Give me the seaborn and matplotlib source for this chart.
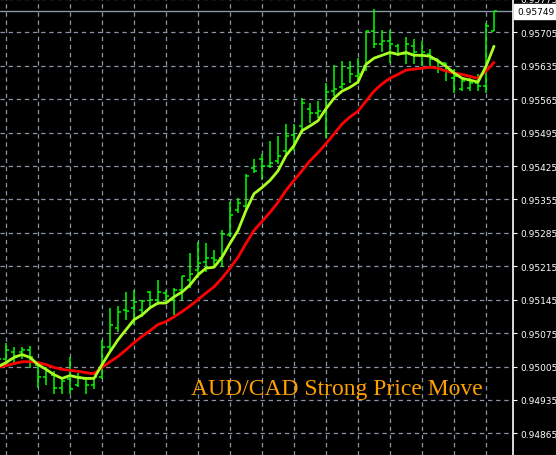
import numpy as np
import pandas as pd
import matplotlib
matplotlib.use("Agg")
import matplotlib.pyplot as plt
import seaborn as sns

# ---- data (AUD/CAD) ----
highs = [0.95040, 0.95055, 0.95045, 0.95045, 0.95047, 0.95013, 0.95003, 0.94995, 0.94984, 0.95024,
         0.94992, 0.94984, 0.94984, 0.95061, 0.95128, 0.95132, 0.95161, 0.95165, 0.95145, 0.95163,
         0.95186, 0.95165, 0.95170, 0.95195, 0.95243, 0.95265, 0.95263, 0.95249, 0.95290, 0.95349,
         0.95359, 0.95409, 0.95440, 0.95451, 0.95478, 0.95488, 0.95513, 0.95513, 0.95567, 0.95557,
         0.95561, 0.95599, 0.95636, 0.95645, 0.95645, 0.95651, 0.95707, 0.95755, 0.95711, 0.95711,
         0.95680, 0.95695, 0.95692, 0.95686, 0.95670, 0.95649, 0.95640, 0.95628, 0.95609, 0.95609,
         0.95617, 0.95724, 0.95749]
lows = [0.94995, 0.95009, 0.95013, 0.95020, 0.95001, 0.94961, 0.94967, 0.94947, 0.94947, 0.94947,
        0.94963, 0.94947, 0.94957, 0.94978, 0.95036, 0.95078, 0.95103, 0.95093, 0.95109, 0.95128,
        0.95134, 0.95138, 0.95113, 0.95145, 0.95170, 0.95190, 0.95203, 0.95213, 0.95213, 0.95276,
        0.95326, 0.95328, 0.95411, 0.95395, 0.95420, 0.95430, 0.95447, 0.95457, 0.95495, 0.95515,
        0.95526, 0.95484, 0.95572, 0.95586, 0.95599, 0.95597, 0.95624, 0.95672, 0.95665, 0.95640,
        0.95655, 0.95638, 0.95638, 0.95634, 0.95630, 0.95620, 0.95603, 0.95578, 0.95582, 0.95582,
        0.95582, 0.95578, 0.95707]
opens = [0.95003, 0.95020, 0.95036, 0.95036, 0.95040, 0.95009, 0.94982, 0.94988, 0.94961, 0.94978,
         0.94967, 0.94978, 0.94967, 0.94982, 0.95045, 0.95086, 0.95124, 0.95128, 0.95124, 0.95161,
         0.95145, 0.95159, 0.95145, 0.95165, 0.95186, 0.95207, 0.95224, 0.95232, 0.95232, 0.95280,
         0.95332, 0.95342, 0.95420, 0.95440, 0.95426, 0.95436, 0.95457, 0.95490, 0.95509, 0.95545,
         0.95536, 0.95540, 0.95582, 0.95590, 0.95630, 0.95613, 0.95634, 0.95707, 0.95680, 0.95686,
         0.95676, 0.95659, 0.95676, 0.95655, 0.95659, 0.95649, 0.95640, 0.95609, 0.95586, 0.95588,
         0.95599, 0.95592, 0.95707]
closes = [0.95020, 0.95040, 0.95026, 0.95040, 0.95024, 0.94982, 0.94995, 0.94961, 0.94974, 0.94957,
          0.94982, 0.94967, 0.94982, 0.95045, 0.95093, 0.95120, 0.95122, 0.95140, 0.95142, 0.95145,
          0.95161, 0.95153, 0.95165, 0.95195, 0.95199, 0.95222, 0.95232, 0.95228, 0.95282, 0.95322,
          0.95347, 0.95405, 0.95415, 0.95426, 0.95432, 0.95447, 0.95488, 0.95478, 0.95557, 0.95536,
          0.95540, 0.95580, 0.95586, 0.95597, 0.95617, 0.95617, 0.95707, 0.95680, 0.95686, 0.95680,
          0.95659, 0.95680, 0.95665, 0.95665, 0.95649, 0.95642, 0.95624, 0.95613, 0.95603, 0.95599,
          0.95592, 0.95718, 0.95749]
ma_fast = [0.95005, 0.95013, 0.95024, 0.95030, 0.95024, 0.95009, 0.94999, 0.94988, 0.94980, 0.94986,
           0.94982, 0.94980, 0.94980, 0.95009, 0.95036, 0.95061, 0.95082, 0.95103, 0.95113, 0.95128,
           0.95138, 0.95138, 0.95151, 0.95161, 0.95176, 0.95197, 0.95211, 0.95213, 0.95234, 0.95263,
           0.95290, 0.95332, 0.95367, 0.95380, 0.95395, 0.95415, 0.95447, 0.95468, 0.95499, 0.95509,
           0.95520, 0.95545, 0.95567, 0.95582, 0.95590, 0.95601, 0.95638, 0.95651, 0.95657, 0.95663,
           0.95659, 0.95663, 0.95657, 0.95657, 0.95655, 0.95645, 0.95634, 0.95620, 0.95609, 0.95605,
           0.95601, 0.95634, 0.95676]
ma_slow = [0.95003, 0.95007, 0.95011, 0.95015, 0.95015, 0.95013, 0.95009, 0.95003, 0.94999, 0.94997,
           0.94995, 0.94992, 0.94990, 0.95003, 0.95015, 0.95026, 0.95040, 0.95055, 0.95068, 0.95080,
           0.95093, 0.95099, 0.95109, 0.95120, 0.95132, 0.95145, 0.95159, 0.95172, 0.95190, 0.95211,
           0.95234, 0.95263, 0.95290, 0.95309, 0.95328, 0.95349, 0.95374, 0.95395, 0.95415, 0.95436,
           0.95453, 0.95472, 0.95492, 0.95513, 0.95528, 0.95540, 0.95561, 0.95582, 0.95597, 0.95609,
           0.95617, 0.95626, 0.95628, 0.95630, 0.95632, 0.95630, 0.95624, 0.95620, 0.95617, 0.95613,
           0.95609, 0.95624, 0.95642]
price_ticks = [0.94865, 0.94935, 0.95005, 0.95075, 0.95145, 0.95215, 0.95285, 0.95355,
               0.95425, 0.95495, 0.95565, 0.95635, 0.95705, 0.95775]
current_price = 0.95749
title_text = "AUD/CAD Strong Price Move"

# ---- build ----
n = len(highs)
df = pd.DataFrame({"bar": np.arange(n), "high": highs, "low": lows, "open": opens,
                   "close": closes, "fast": ma_fast, "slow": ma_slow})

sns.set_theme(style="dark")
plt.rcParams["font.family"] = ["DejaVu Sans"]

fig = plt.figure(figsize=(5.56, 4.56), dpi=100, facecolor="black")
ax = fig.add_axes([0, 0, 513 / 556, 1])
ax.set_facecolor("black")

grid_c = "#8a96a6"
# grid
for t in price_ticks:
    ax.axhline(t, color=grid_c, lw=0.9, ls=(0, (3.5, 3)), zorder=0)
for b in range(1, n + 4, 4):
    ax.axvline(b, color=grid_c, lw=0.9, ls=(0, (3.5, 3)), zorder=0)

# current price line
ax.axhline(current_price, color="#8a96a6", lw=1.0, zorder=1)

# OHLC bars
bar_c = "#00ff00"
ax.vlines(df["bar"], df["low"], df["high"], color=bar_c, lw=1.1, zorder=2)
ax.hlines(df["open"], df["bar"] - 0.4, df["bar"], color=bar_c, lw=1.1, zorder=2)
ax.hlines(df["close"], df["bar"], df["bar"] + 0.4, color=bar_c, lw=1.1, zorder=2)

# moving averages
sns.lineplot(data=df, x="bar", y="slow", color="#ff0000", lw=2.0, ax=ax, zorder=3)
sns.lineplot(data=df, x="bar", y="fast", color="#a8ff22", lw=2.0, ax=ax, zorder=4)

y_top = 0.95705 + 31 / 48000
y_bot = 0.95705 - 425 / 48000
ax.set_xlim(0.25, 64.375)
ax.set_ylim(y_bot, y_top)

ax.set_xlabel("")
ax.set_ylabel("")
ax.set_xticks([])
ax.yaxis.tick_right()
ax.set_yticks(price_ticks)
ax.set_yticklabels([f"{t:.5f}" for t in price_ticks])
ax.tick_params(axis="y", colors="white", labelcolor="white", labelsize=6.5,
               length=3, width=0.8, pad=2, direction="out", right=True, left=False)
for s in ["left", "top", "bottom"]:
    ax.spines[s].set_visible(False)
ax.spines["right"].set_color("white")
ax.spines["right"].set_linewidth(1.2)
ax.grid(False)

# current price tag
ax.annotate(f"{current_price:.5f}", xy=(1.0, current_price), xycoords=("axes fraction", "data"),
            xytext=(3, 0), textcoords="offset points", ha="left", va="center",
            fontsize=6.5, color="black",
            bbox=dict(boxstyle="square,pad=0.3", fc="white", ec="white"), annotation_clip=False)

ax.text(483 / 513, 60.5 / 456, title_text, transform=ax.transAxes, ha="right", va="baseline",
        fontsize=17.0, color="#ffa000", family=["Liberation Serif", "DejaVu Serif"], zorder=5)

fig.savefig("out.png", dpi=100, facecolor="black")
